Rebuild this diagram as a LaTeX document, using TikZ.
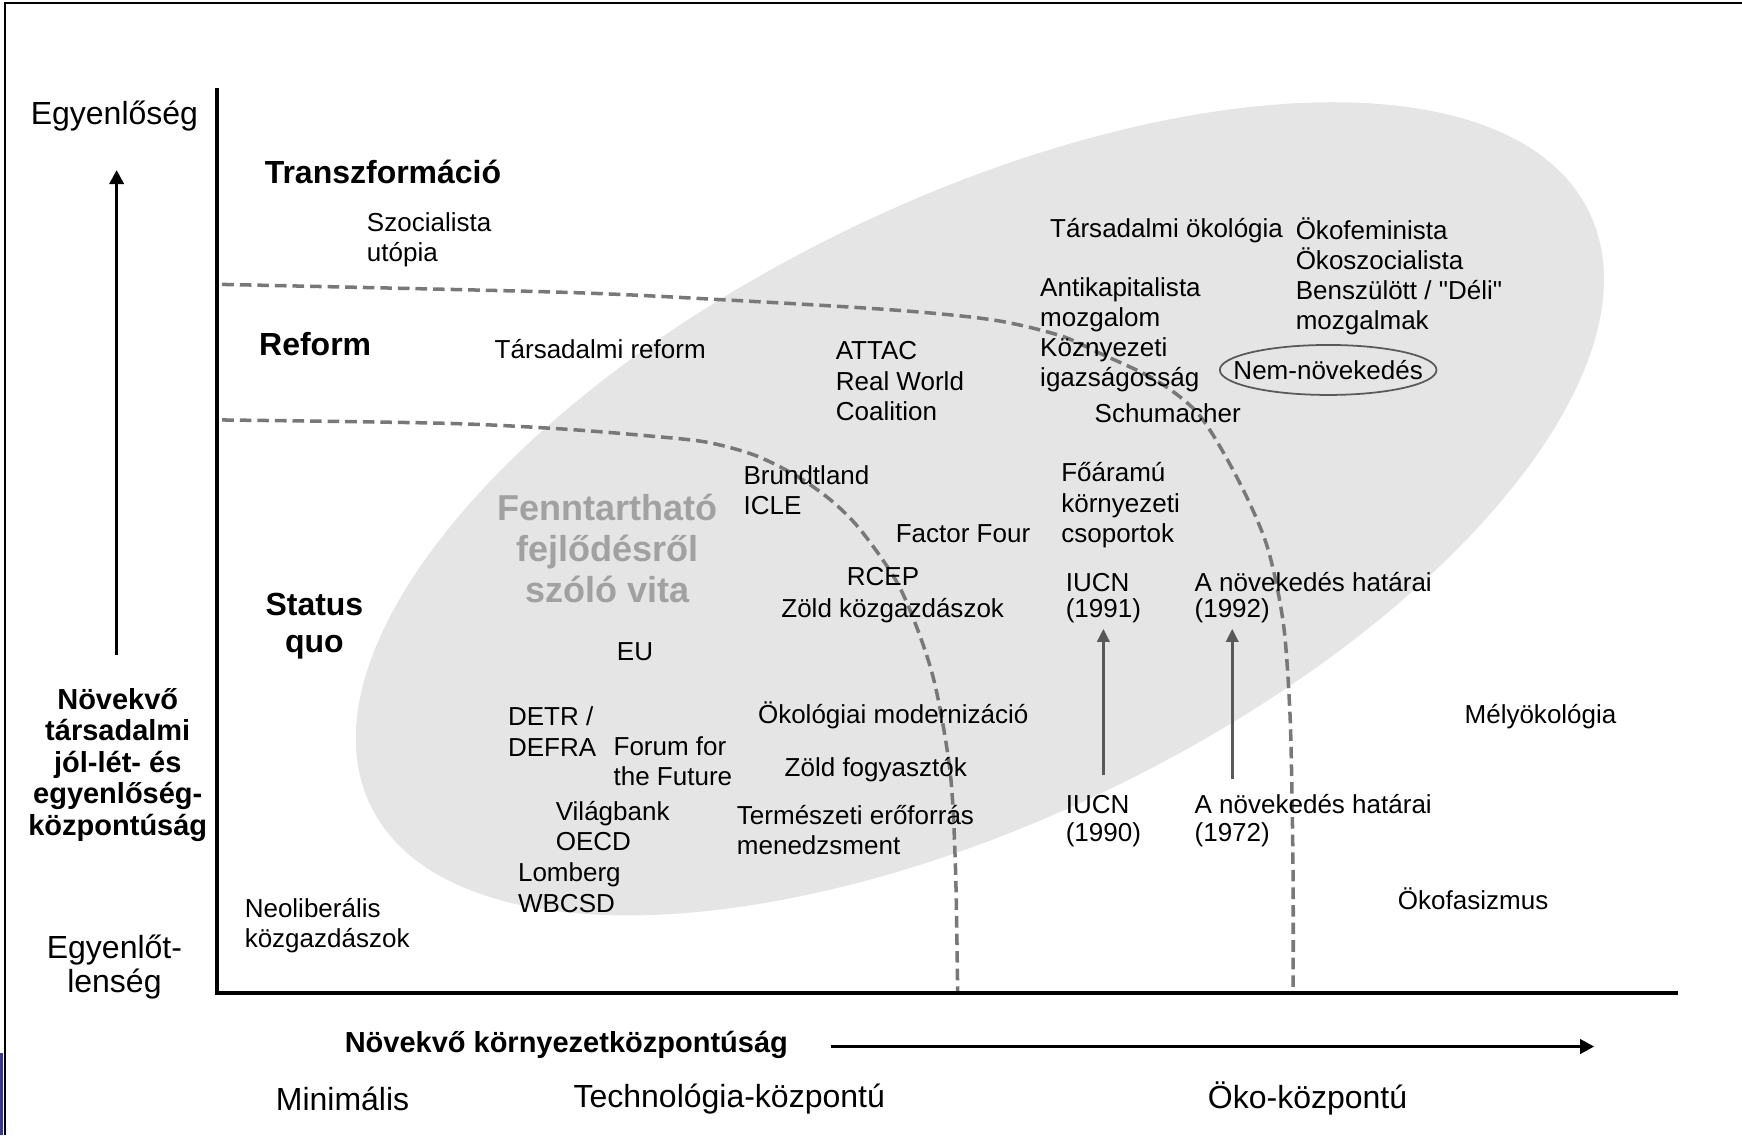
\documentclass[tikz,border=0pt]{standalone}
\usepackage{fontspec}
\setmainfont{Liberation Sans}
\usetikzlibrary{arrows.meta}

\definecolor{blobgray}{gray}{0.9}
\definecolor{dashgray}{gray}{0.47}
\definecolor{trendgray}{gray}{0.35}
\definecolor{debategray}{gray}{0.63}
\definecolor{slideblue}{RGB}{56,56,150}

\newcommand{\itemfont}{\fontsize{14.8}{17.1}\selectfont}
\newcommand{\sidefont}{\fontsize{18.2}{19.6}\selectfont}
\newcommand{\zonefont}{\fontsize{18.2}{20.9}\selectfont\bfseries}
\newcommand{\axisfont}{\fontsize{16.5}{17.9}\selectfont\bfseries}
\newcommand{\debatefont}{\fontsize{20.5}{23.4}\selectfont\bfseries}

\begin{document}
\begin{tikzpicture}[x=0.02222cm, y=-0.02222cm]
  \tikzstyle{item}=[inner sep=0pt, anchor=west, align=left, font=\itemfont]
  \tikzstyle{sidelbl}=[inner sep=0pt, anchor=west, align=center, font=\sidefont]
  \tikzstyle{zonelbl}=[inner sep=0pt, anchor=west, align=center, font=\zonefont]
  \tikzstyle{axislbl}=[inner sep=0pt, anchor=west, align=center, font=\axisfont]
  \tikzstyle{zoneline}=[dashgray, line width=2pt, dash pattern=on 6.6pt off 3.4pt]
  \tikzstyle{trend}=[trendgray, line width=1.7pt, -{Triangle[length=7.5pt,width=7pt]}]
  \tikzstyle{axisarrow}=[line width=2pt, -{Triangle[length=8pt,width=8pt]}]

  \useasboundingbox (0,0) rectangle (1568,1022);

  % slide frame
  \fill[slideblue] (0,948) rectangle (2.6,1022);
  \draw[line width=1.7pt] (4.5,1022) -- (4.5,2.7) -- (1568,2.7);

  % the debate area
  \fill[blobgray, rotate around={26:(882,458)}] (882,458) ellipse [x radius=610, y radius=278];

  % zone borders
  \draw[zoneline] plot[smooth, tension=0.5] coordinates {(200,256) (504,263) (654,270) (804,279) (894,288)
    (954,302) (990,318) (1040,342) (1079,373) (1113,429) (1140,490) (1155,560) (1161,640) (1163,720) (1164,800) (1164,893)};
  \draw[zoneline] plot[smooth, tension=0.5] coordinates {(200,378) (400,381) (504,386) (580,392) (636,398)
    (680,410) (718,429) (750,452) (777,480) (811,531) (839,606) (855,693) (860,780) (862,893)};

  % axes
  \draw[line width=2.4pt] (195,79) -- (195,894) -- (1510,894);

  % side and bottom labels
  \node (egyen) [sidelbl, anchor=center] at (103,104) {Egyenlőség};
  \node (egyenlot) [sidelbl, anchor=center] at (103,870.5) {Egyenlőt-\\lenség};
  \node (socax) [axislbl, anchor=center] at (106,688.5) {Növekvő\\társadalmi\\jól-lét- és\\egyenlőség-\\központúság};
  \node (envax) [axislbl] at (310,941) {Növekvő környezetközpontúság};
  \node (minim) [sidelbl] at (248,989) {Minimális};
  \node (techno) [sidelbl] at (516,989) {Technológia-központú};
  \node (ecocen) [sidelbl] at (1087,989) {Öko-központú};

  \coordinate (upfrom) at (105,590);
  \coordinate (upto) at (105,153);
  \draw[axisarrow] (upfrom) -- (upto);
  \coordinate (rightfrom) at (748,942);
  \coordinate (rightto) at (1435,942);
  \draw[axisarrow] (rightfrom) -- (rightto);

  % zones
  \node (transz) [zonelbl] at (238,155) {Transzformáció};
  \node (reform) [zonelbl] at (233,310) {Reform};
  \node (statusq) [zonelbl, anchor=center] at (283,563.5) {Status\\quo};
  \node (fennt) [inner sep=0pt, align=center, font=\debatefont, text=debategray] at (547,494) {Fenntartható\\fejlődésről\\szóló vita};

  % transformation
  \node (szoc) [item] at (330,215.5) {Szocialista\\utópia};
  \node (tarsok) [item] at (945,208) {Társadalmi ökológia};
  \node (okofem) [item] at (1166,248.5) {Ökofeminista\\Ökoszocialista\\Benszülött / \textquotedbl Déli\textquotedbl\\mozgalmak};
  \node (antikap) [item] at (936,301.5) {Antikapitalista\\mozgalom\\Köznyezeti\\igazságosság};
  \node (nongrowth) [item, anchor=center] at (1195.5,333) {Nem-növekedés};
  \draw[trendgray, line width=1pt] (nongrowth) ellipse [x radius=97.5, y radius=22.5];
  \node (schum) [item] at (985,372) {Schumacher};

  % reform
  \node (tarsref) [item] at (445,314) {Társadalmi reform};
  \node (attac) [item] at (752,343) {ATTAC\\Real World\\Coalition};
  \node (brundt) [item] at (669,441.5) {Brundtland\\ICLE};
  \node (factor) [item] at (806,480) {Factor Four};
  \node (foaram) [item] at (955,454.7) {Főáramú\\környezeti\\csoportok};
  \node (rcep) [item] at (762,519) {RCEP};
  \node (zoldkoz) [item] at (703,550) {Zöld közgazdászok};
  \node (iucn91) [item] at (959,524) {IUCN};
  \node (y91) [item] at (959,550) {(1991)};
  \node (lim92) [item] at (1075,524) {A növekedés határai};
  \node (y92) [item] at (1075,550) {(1992)};

  % status quo
  \node (eu) [item] at (555,587) {EU};
  \node (detr) [item] at (457,658.5) {DETR /\\DEFRA};
  \node (forum) [item] at (552,685.5) {Forum for\\the Future};
  \node (okomod) [item] at (682,644) {Ökológiai modernizáció};
  \node (zoldfogy) [item] at (706,693) {Zöld fogyasztók};
  \node (vilagb) [item] at (500,743.5) {Világbank\\OECD};
  \node (termesz) [item] at (663,747.5) {Természeti erőforrás\\menedzsment};
  \node (iucn90) [item] at (959,724) {IUCN};
  \node (y90) [item] at (959,751) {(1990)};
  \node (lim72) [item] at (1075,724) {A növekedés határai};
  \node (y72) [item] at (1075,751) {(1972)};
  \node (lomb) [item] at (466,799) {Lomberg\\WBCSD};
  \node (neolib) [item] at (220,833) {Neoliberális\\közgazdászok};
  \node (melyok) [item] at (1318,645) {Mélyökológia};
  \node (okofas) [item] at (1258,809) {Ökofasizmus};

  \draw[trend, shorten <=11pt, shorten >=3pt] (iucn90.north -| y91) -- (y91.south);
  \draw[trend, shorten <=8.5pt, shorten >=3pt] (lim72.north -| y92) -- (y92.south);
\end{tikzpicture}
\end{document}
